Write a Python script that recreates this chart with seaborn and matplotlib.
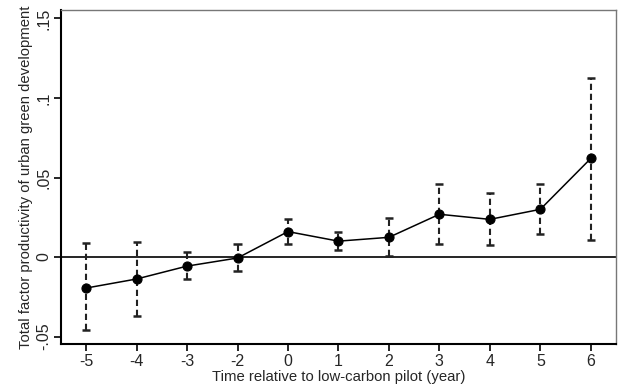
import numpy as np
import pandas as pd
import seaborn as sns
import matplotlib.pyplot as plt

# event-study estimates
periods = ['-5', '-4', '-3', '-2', '0', '1', '2', '3', '4', '5', '6']
coef = [-0.0195, -0.0138, -0.0057, -0.0006, 0.0160, 0.0100, 0.0124, 0.0269, 0.0237, 0.0300, 0.0620]
ci_low = [-0.0460, -0.0370, -0.0138, -0.0088, 0.0080, 0.0042, 0.0008, 0.0082, 0.0075, 0.0147, 0.0107]
ci_high = [0.0088, 0.0096, 0.0030, 0.0080, 0.0237, 0.0160, 0.0243, 0.0459, 0.0400, 0.0459, 0.1124]

df = pd.DataFrame({'period': periods, 'coef': coef, 'lo': ci_low, 'hi': ci_high})

sns.set_style('white')
plt.rcParams['font.family'] = ['Liberation Sans', 'DejaVu Sans']

fig = plt.figure(figsize=(6.21, 3.87), dpi=100)
ax = fig.add_axes([0.098, 0.111, 0.894, 0.863])

# zero reference line
ax.axhline(0, color='black', lw=1.2, zorder=1)

# dashed confidence intervals with caps
xpos = np.arange(len(df))
ax.vlines(xpos, df['lo'], df['hi'], colors='#222222', linestyles=(0, (3, 1.8)), lw=1.5, zorder=2)
ax.hlines(list(df['lo']) + list(df['hi']), np.r_[xpos, xpos] - 0.08, np.r_[xpos, xpos] + 0.08,
          colors='#222222', lw=1.8, zorder=2)

sns.pointplot(data=df, x='period', y='coef', color='black', errorbar=None,
              markers='o', linewidth=1.1, markersize=6.5, ax=ax, zorder=3)

ax.set_xlim(-0.5, 10.5)
ax.set_ylim(-0.0547, 0.1553)
ax.set_yticks([-0.05, 0, 0.05, 0.1, 0.15])
ax.set_yticklabels(['-.05', '0', '.05', '.1', '.15'], rotation=90, va='center')
ax.tick_params(axis='both', direction='out', length=5, width=1.2, labelsize=11.5,
               left=True, bottom=True, color='black')
ax.tick_params(axis='y', pad=2)
ax.tick_params(axis='x', pad=2)

for s in ['left', 'bottom']:
    ax.spines[s].set_color('black')
    ax.spines[s].set_linewidth(1.5)
for s in ['top', 'right']:
    ax.spines[s].set_color('#777777')
    ax.spines[s].set_linewidth(1.0)

ax.set_xlabel('Time relative to low-carbon pilot (year)', fontsize=10.7, labelpad=1)
ax.set_ylabel('Total factor productivity of urban green development', fontsize=10.7, labelpad=2)

fig.savefig('out.png', dpi=100)
